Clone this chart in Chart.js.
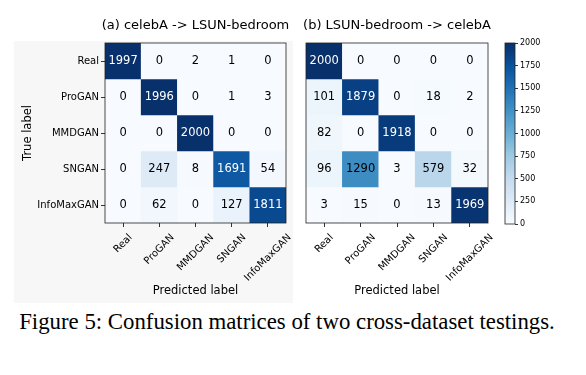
<!DOCTYPE html>
<html>
<head>
<meta charset="utf-8">
<script src="https://cdn.jsdelivr.net/npm/chart.js@4/dist/chart.umd.min.js"></script>
<style>
  body { margin: 0; width: 586px; height: 375px; background: #fff; position: relative; overflow: hidden; }
  .bg { position: absolute; left: 14px; top: 41px; width: 279px; height: 262px; background: #f7f7f7; }
  .box { position: absolute; top: 0; height: 305px; }
  #caption { position: absolute; left: 0; width: 574px; top: 308px; text-align: center; line-height: 28px;
             font-family: "Liberation Serif", serif; font-size: 22.8px; color: #000; }
</style>
</head>
<body>
<div class="bg"></div>
<div class="box" style="left:0;width:296px"><canvas id="cmA"></canvas></div>
<div class="box" style="left:296px;width:200px"><canvas id="cmB"></canvas></div>
<div class="box" style="left:496px;width:90px"><canvas id="cbar"></canvas></div>
<div id="caption">Figure 5: Confusion matrices of two cross-dataset testings.</div>

<script>
// Datos
const classLabels = ['Real', 'ProGAN', 'MMDGAN', 'SNGAN', 'InfoMaxGAN'];
const matrixA = [
    [1997, 0, 2, 1, 0],
    [0, 1996, 0, 1, 3],
    [0, 0, 2000, 0, 0],
    [0, 247, 8, 1691, 54],
    [0, 62, 0, 127, 1811],
];
const matrixB = [
    [2000, 0, 0, 0, 0],
    [101, 1879, 0, 18, 2],
    [82, 0, 1918, 0, 0],
    [96, 1290, 3, 579, 32],
    [3, 15, 0, 13, 1969],
];
const colorbarTicks = [0, 250, 500, 750, 1000, 1250, 1500, 1750, 2000];
const vmax = 2000;

// Colormap "Blues" de matplotlib
const bluesStops = ['#f7fbff', '#deebf7', '#c6dbef', '#9ecae1', '#6baed6', '#4292c6', '#2171b5', '#08519c', '#08306b'];
function hexToRgb(h) {
    return [1, 3, 5].map(i => parseInt(h.substr(i, 2), 16));
}
function blues(t) {
    t = Math.max(0, Math.min(1, t)) * (bluesStops.length - 1);
    const i = Math.min(Math.floor(t), bluesStops.length - 2);
    const f = t - i;
    const a = hexToRgb(bluesStops[i]), b = hexToRgb(bluesStops[i + 1]);
    const c = a.map((v, k) => Math.round(v + (b[k] - v) * f));
    return `rgb(${c[0]},${c[1]},${c[2]})`;
}

Chart.defaults.font.family = '"DejaVu Sans", sans-serif';
Chart.defaults.color = '#000';
Chart.defaults.animation = false;

// Texto de las celdas, etiquetas giradas del eje x, marco y título
const cellText = {
    id: 'cellText',
    afterDatasetsDraw(chart, args, opts) {
        const { ctx, chartArea: a } = chart;
        const x = chart.scales.x, y = chart.scales.y;
        ctx.save();
        if (opts.matrix) {
            ctx.font = '11.5px "DejaVu Sans"';
            ctx.textAlign = 'center';
            ctx.textBaseline = 'middle';
            opts.matrix.forEach((row, r) => row.forEach((v, c) => {
                ctx.fillStyle = v > 1500 ? '#fff' : '#000';
                ctx.fillText(String(v), x.getPixelForValue(c), y.getPixelForValue(r) + 0.5);
            }));

            // etiquetas a 45°, centradas en la marca como en matplotlib
            ctx.font = '10px "DejaVu Sans"';
            ctx.fillStyle = '#000';
            ctx.textAlign = 'right';
            classLabels.forEach((lab, c) => {
                const w = ctx.measureText(lab).width;
                ctx.save();
                ctx.translate(x.getPixelForValue(c) + 0.354 * w, a.bottom + 13);
                ctx.rotate(-Math.PI / 4);
                ctx.fillText(lab, 0, 0);
                ctx.restore();
            });
        }
        ctx.strokeStyle = '#222';
        ctx.lineWidth = 0.8;
        ctx.strokeRect(a.left, a.top, a.width, a.height);
        if (opts.title) {
            ctx.fillStyle = '#000';
            ctx.font = '13px "DejaVu Sans"';
            ctx.textAlign = 'center';
            ctx.textBaseline = 'middle';
            ctx.fillText(opts.title, (a.left + a.right) / 2, 26);
        }
        ctx.restore();
    }
};

function makeMatrix(id, title, matrix, showY, padding) {
    return new Chart(document.getElementById(id), {
        type: 'bar',
        data: {
            labels: classLabels,
            datasets: matrix.map((row, r) => ({
                data: row.map(() => [r - 0.5, r + 0.5]),
                backgroundColor: row.map(v => blues(v / vmax)),
                borderWidth: 0,
                grouped: false,
                barPercentage: 1,
                categoryPercentage: 1,
            })),
        },
        options: {
            responsive: true,
            maintainAspectRatio: false,
            layout: { padding },
            plugins: {
                legend: { display: false },
                tooltip: { enabled: false },
                cellText: { matrix, title },
            },
            scales: {
                x: {
                    grid: { offset: false, drawOnChartArea: false, tickLength: 4, tickColor: '#000', tickWidth: 0.8 },
                    border: { display: false },
                    ticks: { display: false, autoSkip: false },
                    title: { display: true, text: 'Predicted label', font: { size: 11.5 }, padding: { top: 0, bottom: 7 } },
                    afterFit: s => { s.height = 82; s.paddingLeft = 0; s.paddingRight = 0; },
                },
                y: {
                    type: 'linear',
                    display: showY,
                    min: -0.5,
                    max: 4.5,
                    reverse: true,
                    afterBuildTicks: s => { s.ticks = classLabels.map((_, i) => ({ value: i })); },
                    grid: { drawOnChartArea: false, tickLength: 4, tickColor: '#000', tickWidth: 0.8 },
                    border: { display: false },
                    ticks: { callback: v => classLabels[v], font: { size: 10 }, padding: 2 },
                    title: { display: true, text: 'True label', font: { size: 11.5 }, padding: { top: 21, bottom: 0 } },
                    afterFit: s => { s.width = showY ? 105 : 0; },
                },
            },
        },
        plugins: [cellText],
    });
}

makeMatrix('cmA', '(a) celebA -> LSUN-bedroom', matrixA, true, { top: 43, right: 10, left: 0, bottom: 0 });
makeMatrix('cmB', '(b) LSUN-bedroom -> celebA', matrixB, false, { top: 43, right: 8, left: 10, bottom: 0 });

// Barra de color
new Chart(document.getElementById('cbar'), {
    type: 'bar',
    data: {
        labels: [''],
        datasets: [{
            data: [[0, vmax]],
            borderWidth: 0,
            barPercentage: 1,
            categoryPercentage: 1,
            backgroundColor: c => {
                const { chart } = c;
                if (!chart.chartArea) return null;
                const y = chart.scales.y;
                const g = chart.ctx.createLinearGradient(0, y.getPixelForValue(0), 0, y.getPixelForValue(vmax));
                bluesStops.forEach((col, i) => g.addColorStop(i / (bluesStops.length - 1), col));
                return g;
            },
        }],
    },
    options: {
        responsive: true,
        maintainAspectRatio: false,
        layout: { padding: { top: 43, bottom: 81, left: 9, right: 31 } },
        plugins: { legend: { display: false }, tooltip: { enabled: false }, cellText: {} },
        scales: {
            x: { display: false },
            y: {
                position: 'right',
                min: 0,
                max: vmax,
                afterBuildTicks: s => { s.ticks = colorbarTicks.map(v => ({ value: v })); },
                grid: { drawOnChartArea: false, tickLength: 3, tickColor: '#000', tickWidth: 0.8 },
                border: { display: false },
                ticks: { font: { size: 8 }, padding: 2, callback: v => String(v) },
                afterFit: s => { s.width = 40; },
            },
        },
    },
    plugins: [cellText],
});
</script>
</body>
</html>
